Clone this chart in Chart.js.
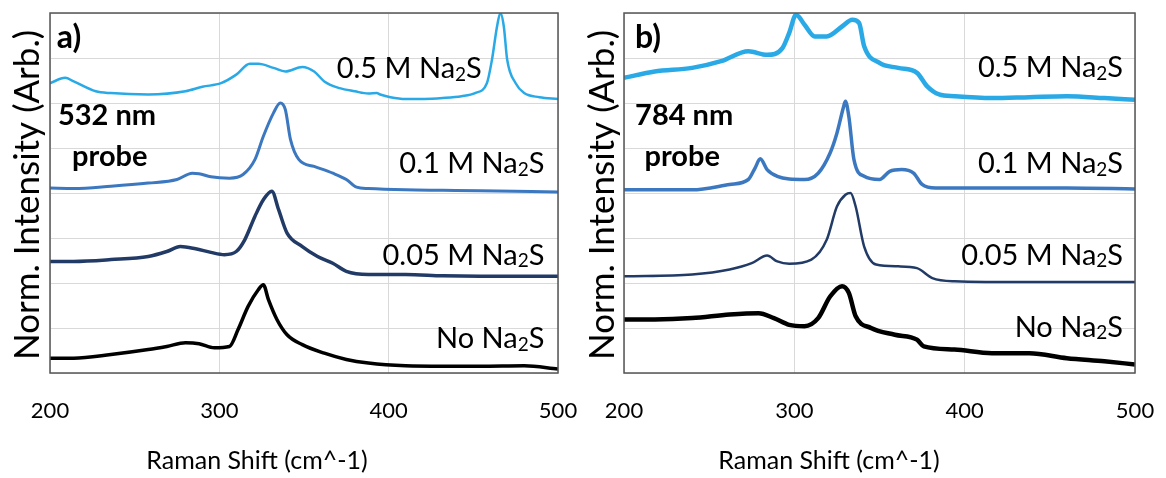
<!DOCTYPE html>
<html>
<head>
<meta charset="utf-8">
<script src="https://cdn.jsdelivr.net/npm/chart.js@4.4.1/dist/chart.umd.min.js"></script>
<style>
  html, body { margin: 0; padding: 0; background: #fff; }
  #wrap { position: relative; width: 1166px; height: 478px; overflow: hidden; }
  canvas { position: absolute; top: 0; }
  #cA { left: 0; }
  #cB { left: 583px; }
</style>
</head>
<body>
<div id="wrap">
  <canvas id="cA" width="583" height="478" style="width:583px;height:478px"></canvas>
  <canvas id="cB" width="583" height="478" style="width:583px;height:478px"></canvas>
</div>
<script>
// Raman shift axis (cm^-1) and stacked, offset intensity (arb. units)
const xTicks = [200, 300, 400, 500];

// 532 nm probe spectra: [shift, offset intensity]
const a_05M = [[200,6.44],[209,6.56],[214,6.48],[227,6.26],[236,6.22],[258,6.19],[280,6.26],[290,6.36],[301,6.44],[310,6.63],[318,6.87],[323,6.87],[332,6.78],[339,6.70],[349,6.80],[356,6.70],[362,6.48],[371,6.33],[380,6.26],[388,6.21],[393,6.22],[395,6.19],[401,6.13],[410,6.09],[421,6.09],[432,6.11],[443,6.15],[451,6.22],[458,6.44],[461,6.96],[464,7.70],[466,8.00],[468,7.70],[470,6.96],[475,6.44],[480,6.22],[489,6.13],[500,6.09]];
const a_01M = [[200,4.11],[214,4.10],[236,4.15],[258,4.22],[275,4.30],[284,4.44],[288,4.43],[295,4.36],[306,4.33],[314,4.41],[321,4.74],[326,5.26],[332,5.78],[336,6.00],[339,5.85],[342,5.19],[347,4.74],[356,4.59],[367,4.44],[375,4.30],[381,4.13],[388,4.10],[410,4.07],[432,4.06],[454,4.05],[500,4.02]];
const a_005M = [[200,2.48],[214,2.48],[236,2.52],[258,2.59],[269,2.70],[277,2.81],[286,2.76],[295,2.68],[303,2.63],[310,2.70],[315,2.96],[321,3.48],[326,3.85],[331,4.04],[335,3.63],[340,3.11],[349,2.81],[358,2.59],[367,2.44],[375,2.26],[388,2.19],[410,2.19],[432,2.16],[454,2.15],[477,2.15],[500,2.15]];
const a_none = [[200,0.33],[214,0.33],[236,0.41],[258,0.52],[269,0.59],[280,0.67],[288,0.65],[297,0.56],[306,0.59],[311,0.96],[317,1.48],[323,1.85],[326,1.96],[329,1.63],[334,1.19],[340,0.85],[349,0.63],[362,0.44],[375,0.30],[388,0.22],[410,0.16],[432,0.15],[454,0.15],[480,0.16],[500,0.09]];

// 784 nm probe spectra: [shift, offset intensity]
const b_05M = [[200,6.56],[218,6.70],[240,6.78],[257,6.93],[273,7.15],[284,7.07],[293,7.22],[297,7.56],[301,7.96],[306,7.74],[312,7.48],[319,7.48],[328,7.70],[334,7.85],[338,7.78],[341,7.26],[350,6.89],[361,6.78],[372,6.67],[378,6.37],[385,6.19],[394,6.15],[416,6.11],[438,6.13],[460,6.15],[482,6.11],[500,6.07]];
const b_01M = [[200,4.07],[240,4.07],[262,4.19],[273,4.30],[277,4.56],[280,4.76],[284,4.52],[290,4.37],[297,4.31],[306,4.30],[314,4.44],[321,4.89],[325,5.33],[329,5.93],[330,6.04],[332,5.70],[335,4.74],[341,4.37],[350,4.30],[356,4.48],[363,4.52],[370,4.44],[375,4.19],[383,4.11],[416,4.11],[460,4.11],[500,4.09]];
const b_005M = [[200,2.15],[240,2.19],[262,2.30],[275,2.44],[284,2.61],[290,2.48],[297,2.43],[310,2.52],[319,2.96],[325,3.70],[330,3.96],[333,4.00],[336,3.70],[341,2.81],[348,2.41],[361,2.37],[372,2.33],[381,2.11],[394,2.04],[438,2.02],[500,2.02]];
const b_none = [[200,1.19],[218,1.19],[240,1.22],[262,1.30],[279,1.33],[288,1.22],[297,1.07],[306,1.04],[314,1.22],[321,1.70],[328,1.93],[332,1.78],[336,1.26],[345,1.00],[359,0.85],[372,0.74],[376,0.59],[394,0.52],[416,0.44],[438,0.44],[460,0.33],[482,0.26],[500,0.19]];

// Curve labels: [leading text, subscript, trailing text]
const seriesLabels = [['0.5 M Na','2','S'], ['0.1 M Na','2','S'], ['0.05 M Na','2','S'], ['No Na','2','S']];
const panelTags = ['a)', 'b)'];
const probeLines = [['532 nm', 'probe'], ['784 nm', 'probe']];
const xTitle = 'Raman Shift (cm^-1)';
const yTitle = 'Norm. Intensity (Arb.)';

const colors = ['#29a9e6', '#3b78c0', '#213a66', '#000000'];
const FONT = 'Lato, "Open Sans", sans-serif';

function pts(arr) { return arr.map(p => ({ x: p[0], y: p[1] })); }

function drawSubLabel(ctx, parts, xRight, yBase, size) {
  const big = size + 'px ' + FONT;
  const small = Math.round(size * 0.66) + 'px ' + FONT;
  ctx.font = big;
  const w1 = ctx.measureText(parts[0]).width;
  const w3 = ctx.measureText(parts[2]).width;
  ctx.font = small;
  const w2 = ctx.measureText(parts[1]).width;
  let x = xRight - (w1 + w2 + w3);
  ctx.textAlign = 'left';
  ctx.textBaseline = 'alphabetic';
  ctx.font = big; ctx.fillText(parts[0], x, yBase); x += w1;
  ctx.font = small; ctx.fillText(parts[1], x, yBase + size * 0.1); x += w2;
  ctx.font = big; ctx.fillText(parts[2], x, yBase);
}

function makeDecor(cfg) {
  return {
    id: 'decor',
    afterDraw(chart) {
      const { ctx, chartArea: ca, scales: { x, y } } = chart;
      ctx.save();
      // frame round the plot area
      ctx.strokeStyle = '#555555';
      ctx.lineWidth = 1.5;
      ctx.strokeRect(ca.left, ca.top, ca.right - ca.left, ca.bottom - ca.top);

      ctx.fillStyle = '#000';
      // curve labels
      cfg.labelPos.forEach((p, i) => {
        drawSubLabel(ctx, seriesLabels[i], x.getPixelForValue(p[0]), y.getPixelForValue(p[1]), 29);
      });
      // panel tag and probe wavelength
      ctx.textAlign = 'left';
      ctx.textBaseline = 'alphabetic';
      ctx.font = 'bold 32px ' + FONT;
      ctx.fillText(cfg.tag, x.getPixelForValue(cfg.tagPos[0]), y.getPixelForValue(cfg.tagPos[1]));
      ctx.font = 'bold 29px ' + FONT;
      ctx.fillText(cfg.probe[0], x.getPixelForValue(cfg.probePos[0][0]), y.getPixelForValue(cfg.probePos[0][1]));
      ctx.fillText(cfg.probe[1], x.getPixelForValue(cfg.probePos[1][0]), y.getPixelForValue(cfg.probePos[1][1]));

      // axis titles
      ctx.font = '25px ' + FONT;
      ctx.textAlign = 'center';
      ctx.fillText(xTitle, cfg.xTitleX, 469);
      ctx.save();
      ctx.translate(cfg.yTitleX, (ca.top + ca.bottom) / 2 + 2);
      ctx.rotate(-Math.PI / 2);
      ctx.font = '35px ' + FONT;
      ctx.textBaseline = 'middle';
      ctx.fillText(yTitle, 0, 0);
      ctx.restore();
      ctx.restore();
    }
  };
}

function noEdgePadding(scale) {
  scale.paddingLeft = 0;
  scale.paddingRight = 0;
  scale.paddingTop = 0;
  scale.paddingBottom = 0;
}

function buildChart(canvasId, series, widths, cfg) {
  return new Chart(document.getElementById(canvasId), {
    type: 'line',
    data: {
      datasets: series.map((s, i) => ({
        data: pts(s),
        borderColor: colors[i],
        borderWidth: widths[i],
        pointRadius: 0,
        cubicInterpolationMode: 'monotone',
        fill: false
      }))
    },
    options: {
      responsive: false,
      animation: false,
      devicePixelRatio: 1,
      layout: { padding: { left: 0, right: cfg.padRight, top: 13, bottom: 0 } },
      plugins: { legend: { display: false }, tooltip: { enabled: false } },
      scales: {
        x: {
          type: 'linear',
          min: 200, max: 500,
          afterBuildTicks(scale) { scale.ticks = xTicks.map(v => ({ value: v })); },
          afterFit(scale) { scale.height = 105; noEdgePadding(scale); },
          grid: { color: '#d9d9d9', lineWidth: 1, drawTicks: false },
          border: { display: false },
          ticks: { color: '#000', font: { family: FONT, size: 22 }, padding: 25, maxRotation: 0 }
        },
        y: {
          min: 0, max: 8,
          afterFit(scale) { scale.width = cfg.axisLeft; noEdgePadding(scale); },
          grid: { color: '#d9d9d9', lineWidth: 1, drawTicks: false },
          border: { display: false },
          ticks: { display: false, stepSize: 1 }
        }
      }
    },
    plugins: [makeDecor(cfg)]
  });
}

function start() {
  buildChart('cA', [a_05M, a_01M, a_005M, a_none], [2.5, 3, 3.5, 3.5], {
    padRight: 25, axisLeft: 50,
    labelPos: [[455, 6.56], [492, 4.44], [492, 2.41], [492, 0.56]],
    tag: panelTags[0], tagPos: [204, 7.22],
    probe: probeLines[0], probePos: [[204.7, 5.51], [213, 4.6]],
    xTitleX: 257, yTitleX: 28
  });
  buildChart('cB', [b_05M, b_01M, b_005M, b_none], [4.5, 3.5, 2.5, 4.5], {
    padRight: 31, axisLeft: 41,
    labelPos: [[493, 6.58], [493, 4.44], [493, 2.41], [493, 0.81]],
    tag: panelTags[1], tagPos: [206.5, 7.22],
    probe: probeLines[1], probePos: [[206.5, 5.51], [212, 4.6]],
    xTitleX: 246, yTitleX: 20
  });
}

if (document.fonts && document.fonts.load) {
  Promise.all([
    document.fonts.load('20px Lato'),
    document.fonts.load('bold 20px Lato')
  ]).then(start, start);
} else {
  start();
}
</script>
</body>
</html>
